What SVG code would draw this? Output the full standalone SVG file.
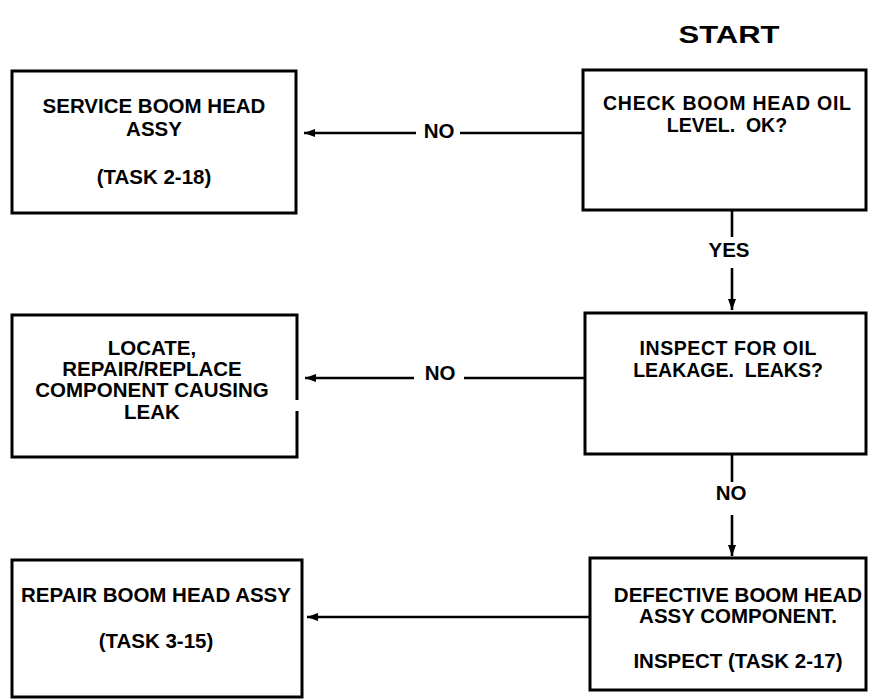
<svg xmlns="http://www.w3.org/2000/svg" width="869" height="700" viewBox="0 0 869 700">
<style>
.box{fill:#fff;stroke:#000;stroke-width:3}
.t{font-family:"Liberation Sans",Arial,Helvetica,sans-serif;font-weight:bold;font-size:20.5px;fill:#000;text-anchor:middle}
.s{font-size:19.5px}
.c{stroke:#000;stroke-width:2.6;fill:none}
</style>
<defs>
<marker id="ah" markerUnits="userSpaceOnUse" markerWidth="12" markerHeight="10" refX="11" refY="5" orient="auto">
<path d="M0,1 L11,5 L0,9 Z" fill="#000"/>
</marker>
</defs>
<rect width="869" height="700" fill="#fff"/>
<text class="t" x="729" y="43" style="font-size:24px" textLength="101" lengthAdjust="spacingAndGlyphs">START</text>
<g id="n_service">
<rect class="box" x="12" y="71" width="284" height="142"/>
<text class="t" x="154" y="113">SERVICE BOOM HEAD</text>
<text class="t" x="154" y="136">ASSY</text>
<text class="t" x="154" y="184">(TASK 2-18)</text>
</g>
<g id="n_check">
<rect class="box" x="583" y="70" width="283" height="140"/>
<text class="t s" x="727" y="110" textLength="248">CHECK BOOM HEAD OIL</text>
<text class="t s" x="727" y="132" xml:space="preserve">LEVEL.  OK?</text>
</g>
<g id="n_locate">
<path class="box" d="M297,400 L297,315 L12,315 L12,457 L297,457 L297,411"/>
<text class="t" x="152" y="355">LOCATE,</text>
<text class="t" x="152" y="376">REPAIR/REPLACE</text>
<text class="t" x="152" y="397">COMPONENT CAUSING</text>
<text class="t" x="152" y="419">LEAK</text>
</g>
<g id="n_inspect">
<rect class="box" x="585" y="313" width="281" height="141"/>
<text class="t s" x="728" y="355" textLength="177">INSPECT FOR OIL</text>
<text class="t s" x="728" y="377" xml:space="preserve">LEAKAGE.  LEAKS?</text>
</g>
<g id="n_repair">
<rect class="box" x="12" y="560" width="290" height="137"/>
<text class="t" x="156" y="602">REPAIR BOOM HEAD ASSY</text>
<text class="t" x="156" y="648">(TASK 3-15)</text>
</g>
<g id="n_defective">
<rect class="box" x="590" y="558" width="276" height="132"/>
<text class="t" x="738" y="602">DEFECTIVE BOOM HEAD</text>
<text class="t" x="738" y="623">ASSY COMPONENT.</text>
<text class="t" x="738" y="668">INSPECT (TASK 2-17)</text>
</g>
<g id="connectors">
<line class="c" x1="583" y1="133" x2="460" y2="133"/>
<line class="c" x1="416" y1="133" x2="304" y2="133" marker-end="url(#ah)"/>
<text class="t" x="439" y="138">NO</text>
<line class="c" x1="586" y1="378" x2="464" y2="378"/>
<line class="c" x1="414" y1="378" x2="305" y2="378" marker-end="url(#ah)"/>
<text class="t" x="440" y="380">NO</text>
<line class="c" x1="590" y1="617" x2="307" y2="617" marker-end="url(#ah)"/>
<line class="c" x1="732" y1="210" x2="732" y2="237"/>
<line class="c" x1="732" y1="268" x2="732" y2="310" marker-end="url(#ah)"/>
<text class="t" x="729" y="257">YES</text>
<line class="c" x1="732" y1="454" x2="732" y2="482"/>
<line class="c" x1="732" y1="515" x2="732" y2="556" marker-end="url(#ah)"/>
<text class="t" x="731" y="500">NO</text>
</g>
</svg>
